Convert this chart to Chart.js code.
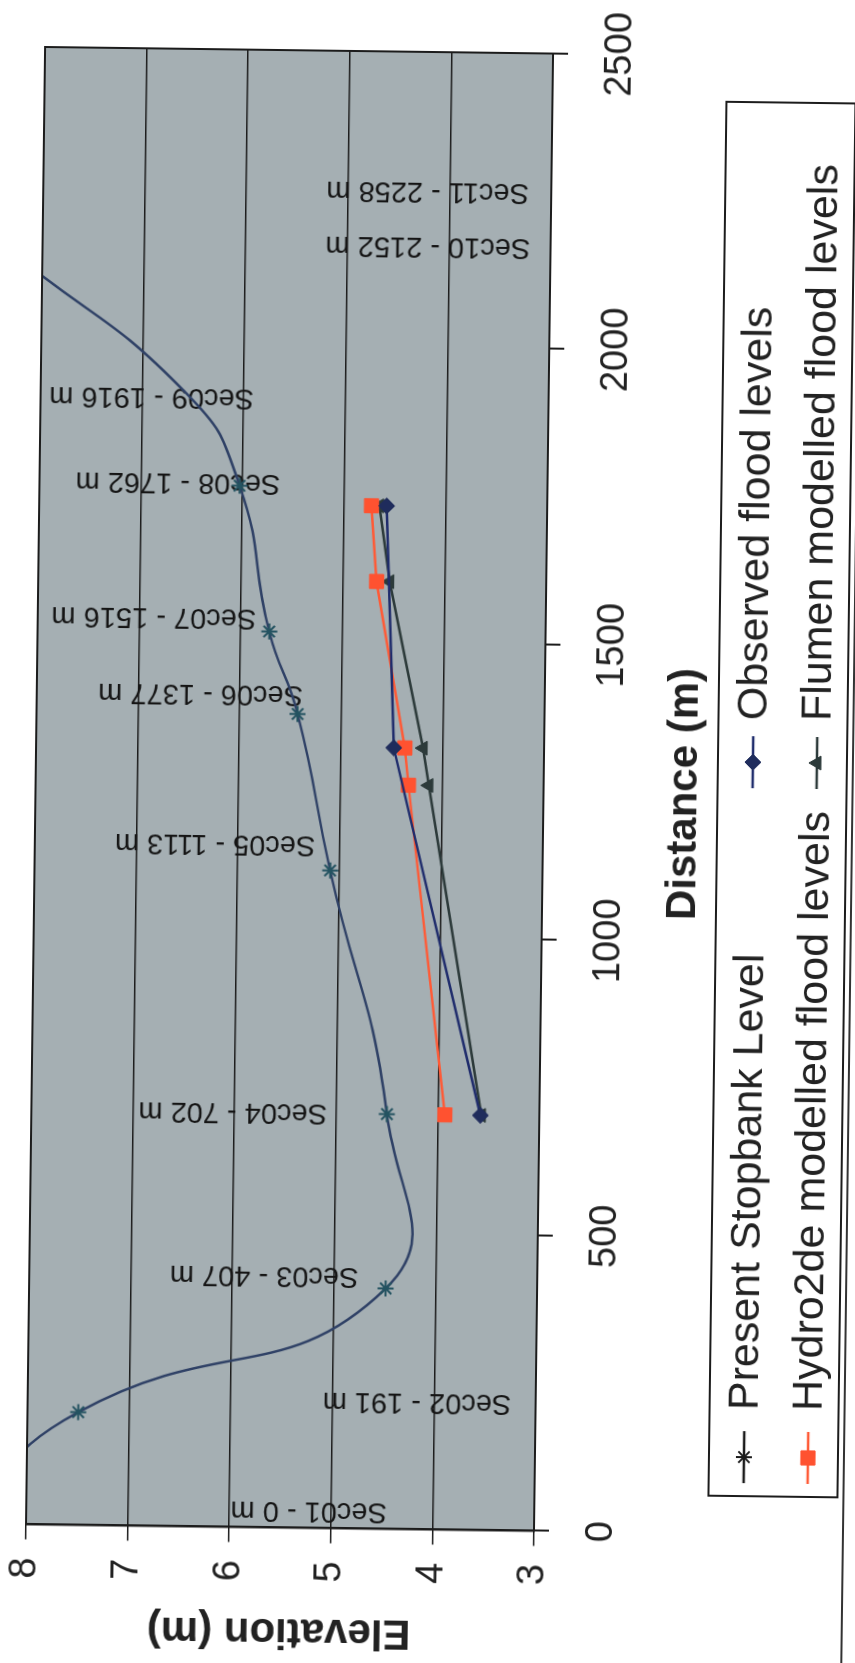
<!DOCTYPE html>
<html>
<head>
<meta charset="utf-8">
<script src="https://cdn.jsdelivr.net/npm/chart.js@4.4.1/dist/chart.umd.min.js"></script>
<style>
  html, body { margin: 0; padding: 0; background: #fff; width: 855px; height: 1663px; overflow: hidden; }
  /* the long profile is laid out landscape and turned onto the portrait page */
  #frame { position: absolute; left: -404px; top: 404px; width: 1663px; height: 855px;
           transform: rotate(-89.26deg); transform-origin: 50% 50%; }
</style>
</head>
<body>
<div id="frame"><canvas id="profile" width="1663" height="855"></canvas></div>
<script>
// Cross-section names and their chainage along the reach (m)
const sectionNames = ['Sec01', 'Sec02', 'Sec03', 'Sec04', 'Sec05', 'Sec06', 'Sec07', 'Sec08', 'Sec09', 'Sec10', 'Sec11'];
const sectionDistances = [0, 191, 407, 702, 1113, 1377, 1516, 1762, 1916, 2152, 2258];

// Present stopbank crest level at each section (m)
const stopbankDistances = [0, 191, 407, 702, 1113, 1377, 1516, 1762, 1916, 2152];
const stopbankLevels = [8.7, 7.5, 4.49, 4.50, 5.09, 5.43, 5.72, 6.03, 6.56, 8.3];

// Observed flood levels (m)
const observedDistances = [702, 1322, 1731];
const observedLevels = [3.58, 4.48, 4.58];

// Hydro2de modelled flood levels (m)
const hydroDistances = [702, 1259, 1322, 1603, 1731];
const hydroLevels = [3.93, 4.33, 4.37, 4.67, 4.73];

// Flumen modelled flood levels (m)
const flumenDistances = [702, 1259, 1322, 1603, 1731];
const flumenLevels = [3.57, 4.13, 4.19, 4.54, 4.65];

// Axis ticks
const distanceTicks = [0, 500, 1000, 1500, 2000, 2500];
const elevationTicks = [3, 4, 5, 6, 7, 8];

// Where each section caption starts, in axis units (distance, elevation)
const captionDistance = [29, 216, 428, 703, 1156, 1410, 1539, 1768, 1911, 2171, 2264];
const captionElevation = [4.45, 3.24, 4.76, 5.09, 5.24, 5.38, 5.85, 5.63, 5.90, 3.20, 3.22];

const FONT = "'Liberation Sans', Arial, Helvetica, sans-serif";
const toPoints = (xs, ys) => xs.map((x, i) => ({ x: x, y: ys[i] }));

const plotFill = '#a5afb3';
const ink = '#1c1c1c';

// plot-area fill, section captions, frame and legend
const decorations = {
  id: 'decorations',
  beforeDraw(chart) {
    const { ctx, chartArea: a } = chart;
    ctx.save();
    ctx.fillStyle = plotFill;
    ctx.fillRect(a.left, a.top, a.right - a.left, a.bottom - a.top);
    ctx.restore();
  },
  beforeDatasetsDraw(chart) {
    const { ctx, scales } = chart;
    ctx.save();
    ctx.fillStyle = '#151515';
    ctx.font = '29px ' + FONT;
    ctx.textAlign = 'left';
    ctx.textBaseline = 'middle';
    sectionNames.forEach((name, i) => {
      const px = scales.x.getPixelForValue(captionDistance[i]);
      const py = scales.y.getPixelForValue(captionElevation[i]);
      ctx.save();
      ctx.translate(px, py);
      ctx.rotate(-Math.PI / 2);
      ctx.fillText(name + ' - ' + sectionDistances[i] + ' m', 0, 0);
      ctx.restore();
    });
    ctx.restore();
  },
  afterDatasetsDraw(chart) {
    const { ctx, chartArea: a } = chart;
    ctx.save();
    ctx.strokeStyle = ink;
    ctx.lineWidth = 2;
    ctx.strokeRect(a.left, a.top, a.right - a.left, a.bottom - a.top);
    ctx.restore();
  },
  afterDraw(chart) {
    const { ctx } = chart;
    const ds = chart.data.datasets;
    ctx.save();
    // outer frame edge
    ctx.strokeStyle = '#333';
    ctx.lineWidth = 2;
    ctx.beginPath();
    ctx.moveTo(0, 852); ctx.lineTo(1663, 852);
    ctx.stroke();

    // legend box
    const box = { left: 171, top: 717, right: 1565, bottom: 846 };
    ctx.fillStyle = '#ffffff';
    ctx.fillRect(box.left, box.top, box.right - box.left, box.bottom - box.top);
    ctx.strokeStyle = ink;
    ctx.lineWidth = 2;
    ctx.strokeRect(box.left, box.top, box.right - box.left, box.bottom - box.top);

    const rows = [[0, 1], [2, 3]];
    const rowY = [752, 816];
    const markX = [210, 905];
    const textX = [257, 947];
    ctx.font = '43px ' + FONT;
    ctx.textBaseline = 'middle';
    ctx.textAlign = 'left';
    rows.forEach((row, r) => {
      row.forEach((di, c) => {
        const d = ds[di];
        const y = rowY[r];
        const x = markX[c];
        ctx.strokeStyle = d.legendLine || d.borderColor;
        ctx.lineWidth = 2.5;
        ctx.beginPath();
        ctx.moveTo(x - 26, y); ctx.lineTo(x + 26, y);
        ctx.stroke();
        const opts = {
          pointStyle: d.pointStyle,
          radius: d.legendRadius || d.pointRadius,
          borderWidth: d.pointBorderWidth,
          rotation: 0
        };
        ctx.fillStyle = d.legendMark || d.pointBackgroundColor;
        ctx.strokeStyle = d.legendMark || d.pointBorderColor;
        ctx.lineWidth = d.pointBorderWidth;
        Chart.helpers.drawPoint(ctx, opts, x, y);
        ctx.fillStyle = '#222';
        ctx.fillText(d.label, textX[c], y + 1);
      });
    });
    ctx.restore();
  }
};

new Chart(document.getElementById('profile'), {
  type: 'line',
  data: {
    datasets: [
      {
        label: 'Present Stopbank Level',
        data: toPoints(stopbankDistances, stopbankLevels),
        borderColor: '#2f4166',
        borderWidth: 2.5,
        tension: 0.5,
        pointStyle: 'star',
        pointRadius: ctx => (ctx.dataIndex === 8 ? 0 : 8),
        legendRadius: 8,
        pointBorderWidth: 2,
        pointBorderColor: '#245361',
        pointBackgroundColor: '#245361',
        legendLine: '#1a1a1a',
        legendMark: '#1a1a1a'
      },
      {
        label: 'Observed flood levels',
        data: toPoints(observedDistances, observedLevels),
        borderColor: '#1f2c6c',
        borderWidth: 2.5,
        tension: 0,
        pointStyle: 'rectRot',
        pointRadius: 8,
        pointBorderWidth: 1,
        pointBorderColor: '#1f2c5c',
        pointBackgroundColor: '#1f2c5c'
      },
      {
        label: 'Hydro2de modelled flood levels',
        data: toPoints(hydroDistances, hydroLevels),
        borderColor: '#ff5a36',
        borderWidth: 2.5,
        tension: 0,
        pointStyle: 'rect',
        pointRadius: 10,
        pointBorderWidth: 1,
        pointBorderColor: '#ff5230',
        pointBackgroundColor: '#ff5230'
      },
      {
        label: 'Flumen modelled flood levels',
        data: toPoints(flumenDistances, flumenLevels),
        borderColor: '#2c3a3a',
        borderWidth: 2.5,
        tension: 0,
        pointStyle: 'triangle',
        pointRadius: 8,
        pointBorderWidth: 1,
        pointBorderColor: '#2c3a3a',
        pointBackgroundColor: '#2c3a3a'
      }
    ]
  },
  options: {
    responsive: false,
    animation: false,
    events: [],
    layout: { padding: { left: 0, right: 52, top: 35, bottom: 141 } },
    elements: { line: { capBezierPoints: false } },
    plugins: { legend: { display: false }, tooltip: { enabled: false } },
    scales: {
      x: {
        type: 'linear',
        min: 0,
        max: 2500,
        afterBuildTicks: s => { s.ticks = distanceTicks.map(v => ({ value: v })); },
        afterFit: s => { s.height = 171; s.paddingLeft = 0; s.paddingRight = 0; },
        grid: { drawOnChartArea: false, drawTicks: true, tickLength: 15, color: ink, lineWidth: 2 },
        border: { display: true, color: ink, width: 2 },
        ticks: { color: '#222', padding: 30, maxRotation: 0, callback: v => String(v),
                 font: { family: FONT, size: 38 } },
        title: {
          display: true, text: 'Distance (m)', color: '#222',
          padding: { top: 0, bottom: 4 },
          font: { family: FONT, size: 42, weight: 'bold' }
        }
      },
      y: {
        type: 'linear',
        min: 3,
        max: 8,
        afterBuildTicks: s => { s.ticks = elevationTicks.map(v => ({ value: v })); },
        afterFit: s => { s.width = 133.5; s.paddingTop = 0; s.paddingBottom = 0; },
        grid: { drawOnChartArea: true, drawTicks: true, tickLength: 15, color: ink, lineWidth: 1.5 },
        border: { display: true, color: ink, width: 2 },
        ticks: { color: '#222', padding: 18, callback: v => String(v), font: { family: FONT, size: 38 } },
        title: {
          display: true, text: 'Elevation (m)', color: '#222',
          padding: { top: 5, bottom: 0 },
          font: { family: FONT, size: 42, weight: 'bold' }
        }
      }
    }
  },
  plugins: [decorations]
});
</script>
</body>
</html>
